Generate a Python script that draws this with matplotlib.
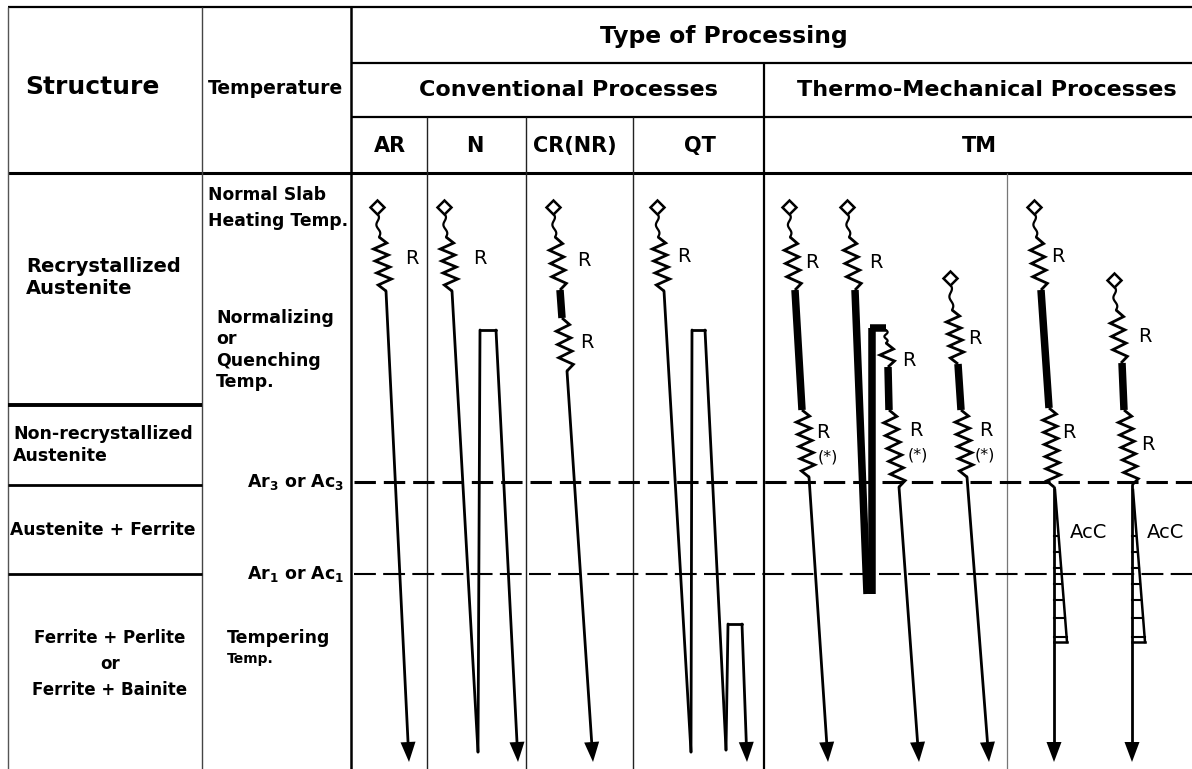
import numpy as np
import matplotlib
matplotlib.use("Agg")
import matplotlib.pyplot as plt

plt.rcParams['font.family'] = ['DejaVu Sans']
plt.rcParams['mathtext.fontset'] = 'dejavusans'

# ---------------- data ----------------
structures = ["Recrystallized\nAustenite", "Non-recrystallized\nAustenite",
              "Austenite + Ferrite", "Ferrite + Perlite\nor\nFerrite + Bainite"]
header_top = "Type of Processing"
process_groups = ["Conventional Processes", "Thermo-Mechanical Processes"]
process_types = ["AR", "N", "CR(NR)", "QT", "TM"]
process_type_x = [390, 475, 575, 700, 979]
temp_labels = ["Normal Slab\nHeating Temp.", "Normalizing\nor\nQuenching\nTemp.",
               "Tempering", "Temp."]

# temperature levels of the schematic (vertical diagram coordinate, hot = top)
T_SLAB = 207
T_NORM = 330
T_AR3 = 482
T_AR1 = 574
T_TEMPER = 624
T_END = 762

# process schedules: (kind, x_start, y_start, x_end, y_end)
AR_steps = [("wave", 377, 213, 379, 237), ("roll", 379, 237, 386, 291),
            ("arrow", 386, 291, 409, T_END)]
N_steps = [("wave", 444, 213, 446, 237), ("roll", 446, 237, 452, 291),
           ("line", 452, 291, 478, 752), ("line", 478, 752, 480, T_NORM),
           ("line", 480, T_NORM, 496, T_NORM), ("arrow", 496, T_NORM, 518, T_END)]
CR_steps = [("wave", 553, 213, 555, 237), ("roll", 555, 237, 560, 290),
            ("hold", 560, 290, 562, 318), ("roll", 562, 318, 567, 371),
            ("arrow", 567, 371, 593, T_END)]
QT_steps = [("wave", 657, 213, 658, 237), ("roll", 658, 237, 664, 291),
            ("line", 664, 291, 691, 752), ("line", 691, 752, 692, T_NORM),
            ("line", 692, T_NORM, 705, T_NORM), ("line", 705, T_NORM, 726, 750),
            ("line", 726, 750, 728, T_TEMPER), ("line", 728, T_TEMPER, 742, T_TEMPER),
            ("arrow", 742, T_TEMPER, 747, T_END)]
TM1_steps = [("wave", 789, 213, 790, 237), ("roll", 790, 237, 795, 290),
             ("hold", 795, 290, 802, 410), ("roll", 802, 410, 809, 477),
             ("arrow", 809, 477, 828, T_END)]
TM2_steps = [("wave", 847, 213, 849, 237), ("roll", 849, 237, 855, 290),
             ("hold", 855, 290, 867, 594), ("hold", 872, 594, 872, 328),
             ("hold", 870, 328, 886, 328), ("wave", 886, 330, 886, 343),
             ("roll", 886, 343, 888, 367), ("hold", 888, 367, 889, 410),
             ("roll", 889, 410, 899, 487), ("arrow", 899, 487, 919, T_END)]
TM3_steps = [("wave", 950, 284, 952, 310), ("roll", 952, 310, 958, 364),
             ("hold", 958, 364, 961, 410), ("roll", 961, 410, 967, 477),
             ("arrow", 967, 477, 989, T_END)]
TM4_steps = [("wave", 1034, 213, 1036, 237), ("roll", 1036, 237, 1041, 290),
             ("hold", 1041, 290, 1049, 408), ("roll", 1049, 408, 1054, 487),
             ("arrow", 1054, 487, 1054, T_END)]
TM5_steps = [("wave", 1114, 286, 1116, 310), ("roll", 1116, 310, 1121, 363),
             ("hold", 1122, 363, 1124, 410), ("roll", 1124, 410, 1132, 485),
             ("arrow", 1132, 485, 1132, T_END)]
all_steps = [AR_steps, N_steps, CR_steps, QT_steps, TM1_steps, TM2_steps,
             TM3_steps, TM4_steps, TM5_steps]

# slab reheating start points (diamonds)
start_x = [377, 444, 553, 657, 789, 847, 950, 1034, 1114]
start_y = [T_SLAB, T_SLAB, T_SLAB, T_SLAB, T_SLAB, T_SLAB, 278, T_SLAB, 280]

# rolling pass labels
R_labels = [(412, 259, "R"), (480, 258, "R"), (584, 260, "R"), (587, 343, "R"),
            (684, 257, "R"), (812, 262, "R"), (823, 432, "R"), (876, 263, "R"),
            (909, 360, "R"), (916, 430, "R"), (975, 338, "R"), (986, 430, "R"),
            (1058, 256, "R"), (1069, 433, "R"), (1145, 337, "R"), (1148, 445, "R")]
star_labels = [(828, 457), (918, 455), (985, 455)]

# accelerated cooling wedges: (x_line, y_top, x_right_bottom, y_bottom)
acc_wedges = [(1054, 490, 1067, 642), (1132, 490, 1145, 642)]
acc_rungs = [536, 552, 568, 584, 600, 618, 637]
acc_label_x = [1089, 1166]

# ---------------- figure ----------------
W, H = 1192, 769
fig = plt.figure(figsize=(W / 100, H / 100), dpi=100)
ax = fig.add_axes([0, 0, 1, 1])
ax.set_xlim(0, W)
ax.set_ylim(H, 0)
ax.axis("off")


def hline(y, x0, x1, lw, c="k"):
    ax.plot([x0, x1], [y, y], color=c, lw=lw, solid_capstyle="butt")


def vline(x, y0, y1, lw, c="k"):
    ax.plot([x, x], [y0, y1], color=c, lw=lw, solid_capstyle="butt")


# table grid
hline(7, 8, W, 1.6)
hline(63, 351, W, 1.6)
hline(117, 351, W, 1.6)
hline(173, 8, W, 2.2)
vline(8, 7, H, 1.0, "#555555")
vline(202, 7, H, 1.0, "#444444")
vline(351, 7, H, 1.8)
for xv in [427, 526, 633]:
    vline(xv, 117, H, 1.0, "#222222")
vline(764, 63, H, 1.6)
vline(1007, 173, H, 0.9, "#777777")
hline(405, 8, 202, 2.8)
hline(485, 8, 202, 2.0)
hline(574, 8, 202, 2.0)

# transformation temperatures
ax.plot([354, W], [T_AR3, T_AR3], color="k", lw=2.2, linestyle=(0, (7.0, 2.6)))
ax.plot([354, W], [T_AR1, T_AR1], color="k", lw=1.5, linestyle=(0, (10.5, 3.5)))

# header texts
ax.text(92, 87, "Structure", ha="center", va="center", fontsize=18, fontweight="bold")
ax.text(276, 88, "Temperature", ha="center", va="center", fontsize=13.5, fontweight="bold")
ax.text(724, 36, header_top, ha="center", va="center", fontsize=16.8, fontweight="bold")
ax.text(568, 90, process_groups[0], ha="center", va="center", fontsize=16, fontweight="bold")
ax.text(987, 90, process_groups[1], ha="center", va="center", fontsize=16, fontweight="bold")
for lab, xx in zip(process_types, process_type_x):
    ax.text(xx, 146, lab, ha="center", va="center", fontsize=15, fontweight="bold")

# structure column
ax.text(26, 277, structures[0], ha="left", va="center", fontsize=14,
        fontweight="bold", linespacing=1.2)
ax.text(13, 445, structures[1], ha="left", va="center", fontsize=12.5,
        fontweight="bold", linespacing=1.35)
ax.text(103, 530, structures[2], ha="center", va="center", fontsize=12.3,
        fontweight="bold")
ax.text(110, 664, structures[3], ha="center", va="center", fontsize=12,
        fontweight="bold", linespacing=1.55, multialignment="center")

# temperature column
ax.text(208, 208, temp_labels[0], ha="left", va="center", fontsize=12.3,
        fontweight="bold", linespacing=1.6)
ax.text(216, 350, temp_labels[1], ha="left", va="center", fontsize=12.5,
        fontweight="bold", linespacing=1.22)
ax.text(227, 638, temp_labels[2], ha="left", va="center", fontsize=12.5, fontweight="bold")
ax.text(227, 659, temp_labels[3], ha="left", va="center", fontsize=10, fontweight="bold")
ax.text(344, T_AR3, r"$\mathbf{Ar}_{\mathbf{3}}$" + " or " + r"$\mathbf{Ac}_{\mathbf{3}}$",
        ha="right", va="center", fontsize=12.5, fontweight="bold")
ax.text(344, T_AR1, r"$\mathbf{Ar}_{\mathbf{1}}$" + " or " + r"$\mathbf{Ac}_{\mathbf{1}}$",
        ha="right", va="center", fontsize=12.5, fontweight="bold")

LW = 2.0


def draw_step(kind, x0, y0, x1, y1):
    if kind == "wave":
        t = np.linspace(0, 1, 40)
        xs = x0 + (x1 - x0) * t + 1.6 * np.sin(2 * np.pi * 1.5 * t)
        ys = y0 + (y1 - y0) * t
        ax.plot(xs, ys, color="k", lw=1.6, solid_capstyle="round")
    elif kind == "roll":
        L = np.hypot(x1 - x0, y1 - y0)
        n = max(4, int(round(L / 6.3)))
        t = np.linspace(0, 1, n + 1)
        off = np.zeros(n + 1)
        off[1:-1] = np.where(np.arange(1, n) % 2 == 1, 7.0, -7.0)
        ax.plot(x0 + (x1 - x0) * t + off, y0 + (y1 - y0) * t, color="k", lw=LW,
                solid_joinstyle="miter", solid_capstyle="butt")
    elif kind == "hold":
        ax.plot([x0, x1], [y0, y1], color="k", lw=5.4, solid_capstyle="butt")
    elif kind == "line":
        ax.plot([x0, x1], [y0, y1], color="k", lw=LW, solid_capstyle="round")
    elif kind == "arrow":
        d = np.array([x1 - x0, y1 - y0], float)
        d /= np.hypot(*d)
        p = np.array([-d[1], d[0]])
        head_len, head_w = 20.0, 7.5
        base = np.array([x1, y1]) - d * head_len
        ax.plot([x0, base[0]], [y0, base[1]], color="k", lw=LW, solid_capstyle="round")
        tri = np.array([[x1, y1], base + p * head_w, base - p * head_w])
        ax.fill(tri[:, 0], tri[:, 1], color="k", lw=0)


for steps in all_steps:
    for st in steps:
        draw_step(*st)

ax.plot(start_x, start_y, linestyle="none", marker="D", ms=7.5, mfc="white",
        mec="k", mew=1.8)

for (x, y, s) in R_labels:
    ax.text(x, y, s, ha="center", va="center", fontsize=14)
for (x, y) in star_labels:
    ax.text(x, y, "(*)", ha="center", va="center", fontsize=11.5)

# accelerated cooling wedges
for (xl, yt, xr, yb), lx in zip(acc_wedges, acc_label_x):
    ax.plot([xl + 1, xr], [yt, yb], color="k", lw=1.8)
    for yr in acc_rungs:
        xe = xl + (xr - xl) * (yr - yt) / (yb - yt)
        ax.plot([xl, xe], [yr, yr], color="k", lw=1.5)
    ax.plot([xl, xr], [yb, yb], color="k", lw=1.8)
    ax.text(lx, 532, "AcC", ha="center", va="center", fontsize=14)

fig.savefig("out.png", dpi=100)
